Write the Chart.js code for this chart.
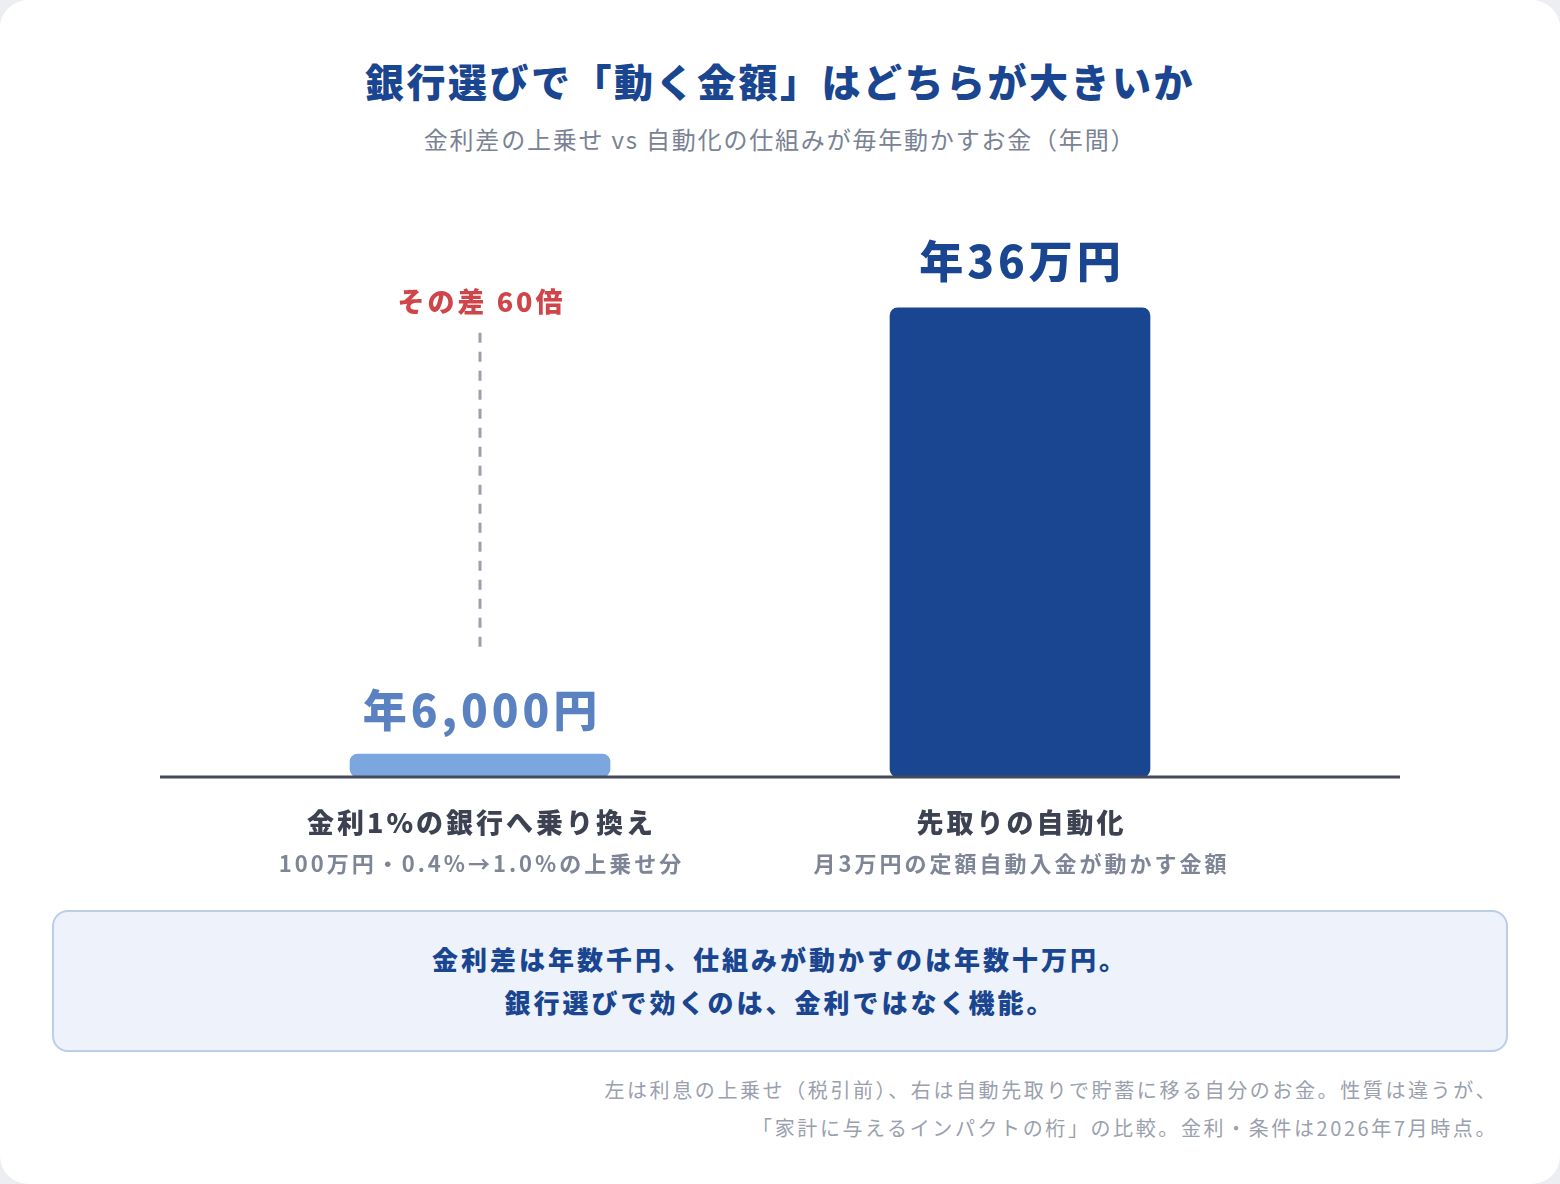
<!DOCTYPE html>
<html lang="ja">
<head>
<meta charset="utf-8">
<script src="https://cdn.jsdelivr.net/npm/chart.js@4.4.1/dist/chart.umd.min.js"></script>
<style>
  html, body { margin: 0; padding: 0; }
  body { width: 1560px; height: 1184px; background: #eceef2; font-family: "Noto Sans CJK JP", "Noto Sans", sans-serif; overflow: hidden; }
  .card { position: absolute; left: 0; top: 0; width: 1560px; height: 1184px; background: #fff; border-radius: 28px; }
  h1 { position: absolute; top: 54px; left: 0; width: 1560px; margin: 0; text-align: center; font-size: 39px; font-weight: 900; color: #1a4590; line-height: 52px; letter-spacing: 2.5px; }
  .sub { position: absolute; top: 123px; left: 0; width: 1560px; text-align: center; font-size: 24px; color: #7a8294; line-height: 32px; letter-spacing: 1.8px; }
  #chartBox { position: absolute; left: 0; top: 180px; width: 1560px; height: 720px; }
  .note { position: absolute; left: 52px; top: 910px; width: 1456px; height: 142px; background: #edf2fb; border: 2px solid #bccde9; border-radius: 16px; text-align: center; color: #1a4590; font-size: 26px; font-weight: 900; line-height: 43px; padding-top: 25px; box-sizing: border-box; letter-spacing: 3px; }
  .foot { position: absolute; right: 62px; top: 1071px; text-align: right; font-size: 20px; color: #9aa0ae; line-height: 38px; letter-spacing: 2.6px; }
</style>
</head>
<body>
<div class="card">
  <h1>銀行選びで「動く金額」はどちらが大きいか</h1>
  <div class="sub">金利差の上乗せ vs 自動化の仕組みが毎年動かすお金（年間）</div>
  <div id="chartBox"><canvas id="chart" width="1560" height="720"></canvas></div>
  <div class="note">金利差は年数千円、仕組みが動かすのは年数十万円。<br>銀行選びで効くのは、金利ではなく機能。</div>
  <div class="foot">左は利息の上乗せ（税引前）、右は自動先取りで貯蓄に移る自分のお金。性質は違うが、<br>「家計に与えるインパクトの桁」の比較。金利・条件は2026年7月時点。</div>
</div>
<script>
const categories = ["金利1%の銀行へ乗り換え", "先取りの自動化"];
const subLabels = ["100万円・0.4%→1.0%の上乗せ分", "月3万円の定額自動入金が動かす金額"];
const values = [6000, 360000];
const valueLabels = ["年6,000円", "年36万円"];
const barColors = ["#7ba6de", "#1a4590"];
const labelColors = ["#5b82c0", "#1a4590"];
const ratioLabel = "その差 60倍";

const FONT = '"Noto Sans CJK JP", "Noto Sans", sans-serif';

// text with letter spacing, centred on x
function spaced(ctx, text, x, y, spacing) {
  ctx.letterSpacing = spacing + "px";
  const w = ctx.measureText(text).width - spacing;
  ctx.textAlign = "left";
  ctx.fillText(text, x - w / 2, y);
  ctx.letterSpacing = "0px";
}

const overlay = {
  id: "overlay",
  afterDatasetsDraw(chart) {
    const ctx = chart.ctx;
    const area = chart.chartArea;
    const meta = chart.getDatasetMeta(0);
    const xs = chart.scales.x;
    ctx.save();
    // baseline
    ctx.strokeStyle = "#454a5a";
    ctx.lineWidth = 3;
    ctx.beginPath();
    ctx.moveTo(160, area.bottom);
    ctx.lineTo(1400, area.bottom);
    ctx.stroke();

    ctx.textBaseline = "middle";
    meta.data.forEach((bar, i) => {
      ctx.fillStyle = labelColors[i];
      ctx.font = "900 44px " + FONT;
      spaced(ctx, valueLabels[i], bar.x, bar.y - (i === 0 ? 44 : 46), 4);
      const cx = xs.getPixelForValue(i);
      ctx.fillStyle = "#3d4252";
      ctx.font = "900 27px " + FONT;
      spaced(ctx, categories[i], cx, area.bottom + 46, 3);
      ctx.fillStyle = "#7d8597";
      ctx.font = "700 22px " + FONT;
      spaced(ctx, subLabels[i], cx, area.bottom + 87, 3);
    });

    // dashed comparison line
    const x0 = xs.getPixelForValue(0);
    const topY = meta.data[1].y + 25;
    const botY = meta.data[0].y - 102;
    ctx.strokeStyle = "#9aa0ae";
    ctx.lineWidth = 3;
    ctx.setLineDash([10, 9]);
    ctx.beginPath();
    ctx.moveTo(x0, topY);
    ctx.lineTo(x0, botY);
    ctx.stroke();
    ctx.setLineDash([]);

    ctx.fillStyle = "#d0454a";
    ctx.font = "900 27px " + FONT;
    spaced(ctx, ratioLabel, x0, topY - 31, 3);
    ctx.restore();
  }
};

new Chart(document.getElementById("chart"), {
  type: "bar",
  data: {
    labels: categories,
    datasets: [{
      data: values,
      backgroundColor: barColors,
      borderRadius: 8,
      borderSkipped: false,
      barThickness: 260,
      minBarLength: 23
    }]
  },
  options: {
    responsive: false,
    animation: false,
    events: [],
    layout: { padding: { left: 210, right: 270, top: 0, bottom: 123 } },
    plugins: { legend: { display: false }, tooltip: { enabled: false } },
    scales: {
      x: { display: false },
      y: { display: false, min: 0, max: 458000 }
    }
  },
  plugins: [overlay]
});
</script>
</body>
</html>
